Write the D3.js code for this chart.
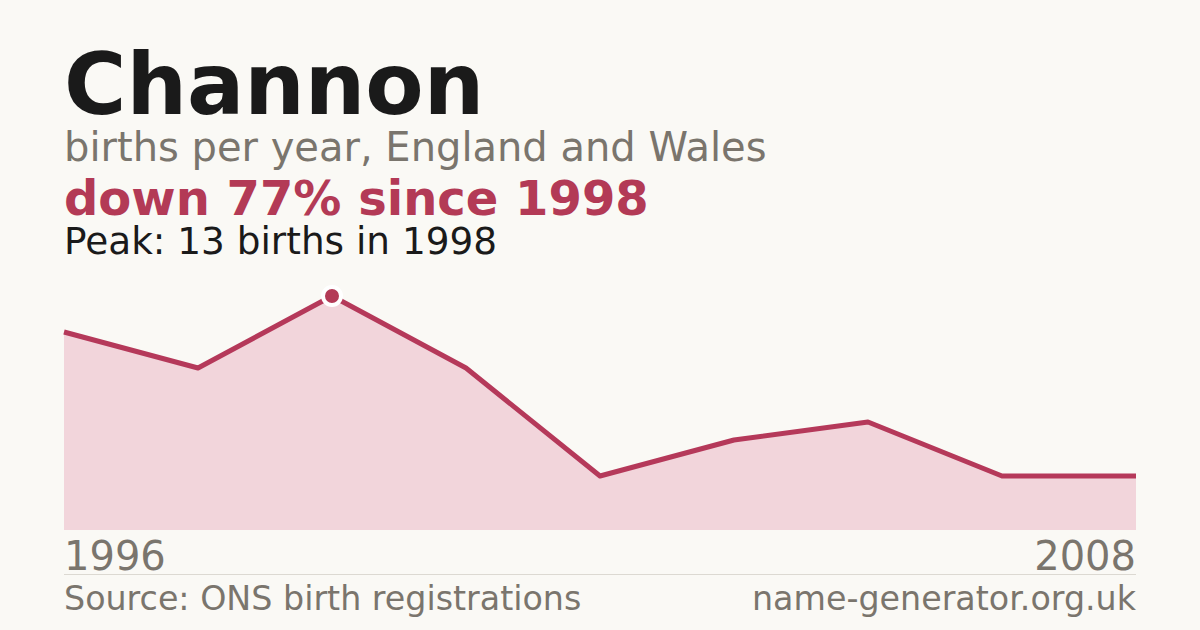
<!DOCTYPE html>
<html lang="en">
<head>
    <meta charset="utf-8">
    <title>Channon</title>
    <script type="text/javascript" src="https://d3js.org/d3.v7.min.js"></script>
    <style>
        body { margin: 0; background: #faf9f5; }
        text { font-family: "DejaVu Sans", sans-serif; }
        .title { font-size: 85px; font-weight: bold; fill: #1a1a1a; }
        .sub { font-size: 40px; fill: #7a756d; }
        .change { font-size: 48px; font-weight: bold; fill: #b33a56; }
        .peak { font-size: 37.4px; fill: #1a1a1a; }
        .year { font-size: 40px; fill: #7a756d; }
        .foot { font-size: 33.3px; fill: #7a756d; }
    </style>
</head>
<body>
<div id="container"></div>
<script type="text/javascript">
    const w = 1200;
    const h = 630;

    // data
    const years = [1996, 1997, 1998, 1999, 2001, 2003, 2004, 2007, 2008];
    const births = [11, 9, 13, 9, 3, 5, 6, 3, 3];

    const svg = d3.select("div#container").append("svg")
        .attr("width", w).attr("height", h)
        .style("background-color", "#faf9f5");

    const x = d3.scalePoint().domain(years).range([64, 1136]);
    const y = d3.scaleLinear().domain([0, d3.max(births)]).range([530, 296]);
    const data = years.map((yr, i) => ({year: yr, n: births[i]}));

    // headings
    svg.append("text").attr("class", "title").attr("x", 64).attr("y", 114).text("Channon");
    svg.append("text").attr("class", "sub").attr("x", 64).attr("y", 161).text("births per year, England and Wales");
    svg.append("text").attr("class", "change").attr("x", 64).attr("y", 215).text("down 77% since 1998");
    svg.append("text").attr("class", "peak").attr("x", 64).attr("y", 254).text("Peak: 13 births in 1998");

    // area + line
    const area = d3.area().x(d => x(d.year)).y0(y(0)).y1(d => y(d.n));
    const line = d3.line().x(d => x(d.year)).y(d => y(d.n));

    svg.append("path").datum(data).attr("d", area).attr("fill", "#f2d5db");
    svg.append("path").datum(data).attr("d", line)
        .attr("fill", "none").attr("stroke", "#b5395a").attr("stroke-width", 5)
        .attr("stroke-linejoin", "round");

    // peak marker
    const peak = data[d3.maxIndex(data, d => d.n)];
    svg.append("circle").attr("cx", x(peak.year)).attr("cy", y(peak.n)).attr("r", 9)
        .attr("fill", "#b33a56").attr("stroke", "#ffffff").attr("stroke-width", 4);

    // year labels
    svg.append("text").attr("class", "year").attr("x", 64).attr("y", 570).text(years[0]);
    svg.append("text").attr("class", "year").attr("x", 1136).attr("y", 570)
        .attr("text-anchor", "end").text(years[years.length - 1]);

    // footer
    svg.append("line").attr("x1", 64).attr("x2", 1136).attr("y1", 574.5).attr("y2", 574.5)
        .attr("stroke", "#dcd9d2").attr("stroke-width", 1);
    svg.append("text").attr("class", "foot").attr("x", 64).attr("y", 610).text("Source: ONS birth registrations");
    svg.append("text").attr("class", "foot").attr("x", 1136).attr("y", 610)
        .attr("text-anchor", "end").text("name-generator.org.uk");
</script>
</body>
</html>
